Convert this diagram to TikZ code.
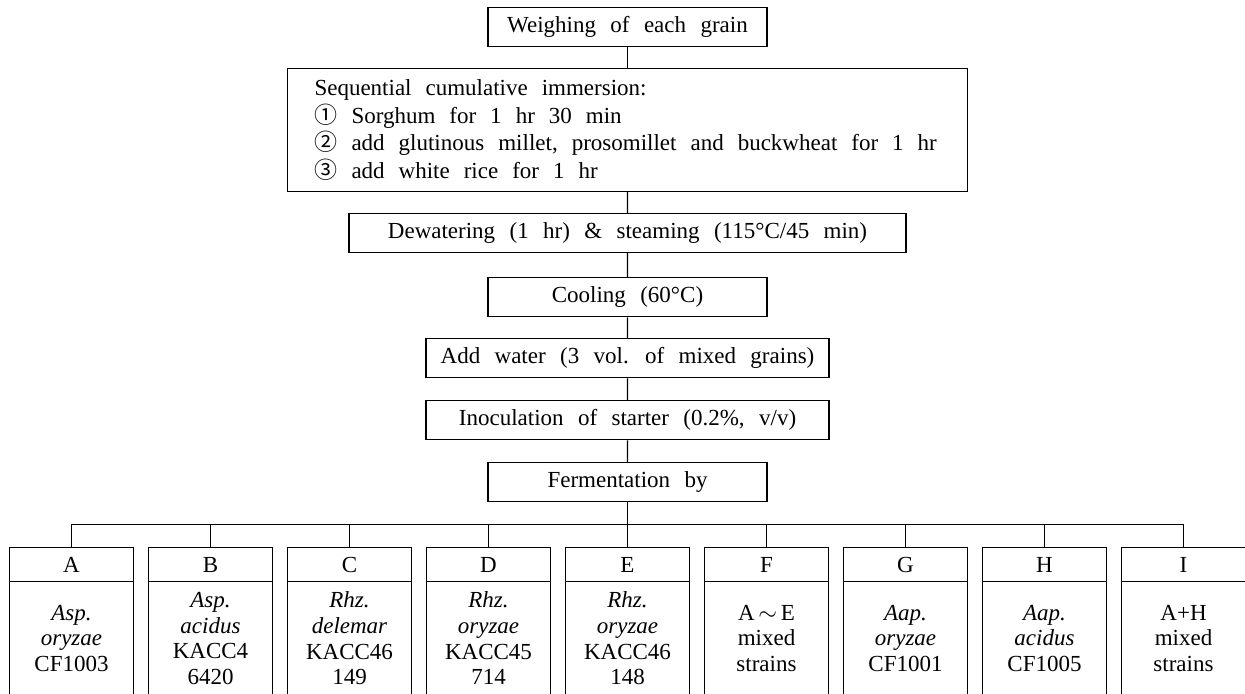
\documentclass[tikz,border=0pt]{standalone}
\usepackage{fontspec}
\setmainfont[WordSpace=2.5]{Liberation Serif}
\newfontfamily\circfont{Noto Sans CJK KR}
\usetikzlibrary{shapes, trees}

\newcommand{\strainpart}[2]{\parbox[c][#1][c]{62pt}{\centering #2}}

\begin{document}
\begin{tikzpicture}[font=\fontsize{11.5}{12.85}\selectfont, line width=0.6pt,
    growth parent anchor=south, parent anchor=south, child anchor=north]
            \tikzstyle{procbox}=[rectangle, draw, inner sep=0pt, minimum height=19.5pt]
            \tikzstyle{strainbox}=[rectangle split, rectangle split parts=2, draw, inner sep=0pt]
            \tikzstyle{every child node}=[anchor=north]
            \tikzstyle{level 1}=[level distance=10.4pt]
            \tikzstyle{level 2}=[level distance=10.4pt]
            \tikzstyle{level 3}=[level distance=12pt]
            \tikzstyle{level 4}=[level distance=10.4pt]
            \tikzstyle{level 5}=[level distance=10.9pt]
            \tikzstyle{level 6}=[level distance=10.9pt]
            \tikzstyle{level 7}=[level distance=22.4pt, sibling distance=69.5pt, edge from parent fork down]
            \useasboundingbox (0,0) rectangle (622.5pt,-347pt);
            \node[procbox, anchor=north, minimum width=139.5pt] (weigh) at (313.75pt,-3.5pt) {Weighing of each grain}
            child {node[procbox, text width=313pt, align=left, inner xsep=13.5pt, minimum height=61.5pt,
                        font=\fontsize{11.5}{13.85}\selectfont] (soak)
                    {\spaceskip=7pt Sequential cumulative immersion:\\
                     {\circfont ①} Sorghum for 1 hr 30 min\\
                     {\circfont ②} add glutinous millet, prosomillet and buckwheat for 1 hr\\
                     {\circfont ③} add white rice for 1 hr}
            child {node[procbox, minimum width=278.5pt] (steam) {Dewatering (1 hr) \& steaming (115°C/45 min)}
            child {node[procbox, minimum width=139.5pt] (cool) {Cooling (60°C)}
            child {node[procbox, minimum width=201.5pt] (water) {Add water (3 vol. of mixed grains)}
            child {node[procbox, minimum width=201.5pt] (inoc) {Inoculation of starter (0.2\%, v/v)}
            child {node[procbox, minimum width=139.5pt] (ferm) {Fermentation by}
                    child {node[strainbox] (sA) {\strainpart{16.4pt}{A} \nodepart{two} \strainpart{56pt}{\textit{Asp.}\\ \textit{oryzae}\\ CF1003}}}
                    child {node[strainbox] (sB) {\strainpart{16.4pt}{B} \nodepart{two} \strainpart{56pt}{\textit{Asp.}\\ \textit{acidus}\\ KACC4\\ 6420}}}
                    child {node[strainbox] (sC) {\strainpart{16.4pt}{C} \nodepart{two} \strainpart{56pt}{\textit{Rhz.}\\ \textit{delemar}\\ KACC46\\ 149}}}
                    child {node[strainbox] (sD) {\strainpart{16.4pt}{D} \nodepart{two} \strainpart{56pt}{\textit{Rhz.}\\ \textit{oryzae}\\ KACC45\\ 714}}}
                    child {node[strainbox] (sE) {\strainpart{16.4pt}{E} \nodepart{two} \strainpart{56pt}{\textit{Rhz.}\\ \textit{oryzae}\\ KACC46\\ 148}}}
                    child {node[strainbox] (sF) {\strainpart{16.4pt}{F} \nodepart{two} \strainpart{56pt}{A\,$\sim$\,E\\ mixed\\ strains}}}
                    child {node[strainbox] (sG) {\strainpart{16.4pt}{G} \nodepart{two} \strainpart{56pt}{\textit{Aap.}\\ \textit{oryzae}\\ CF1001}}}
                    child {node[strainbox] (sH) {\strainpart{16.4pt}{H} \nodepart{two} \strainpart{56pt}{\textit{Aap.}\\ \textit{acidus}\\ CF1005}}}
                    child {node[strainbox] (sI) {\strainpart{16.4pt}{I} \nodepart{two} \strainpart{56pt}{A+H\\ mixed\\ strains}}}
            }}}}}};
\end{tikzpicture}
\end{document}
